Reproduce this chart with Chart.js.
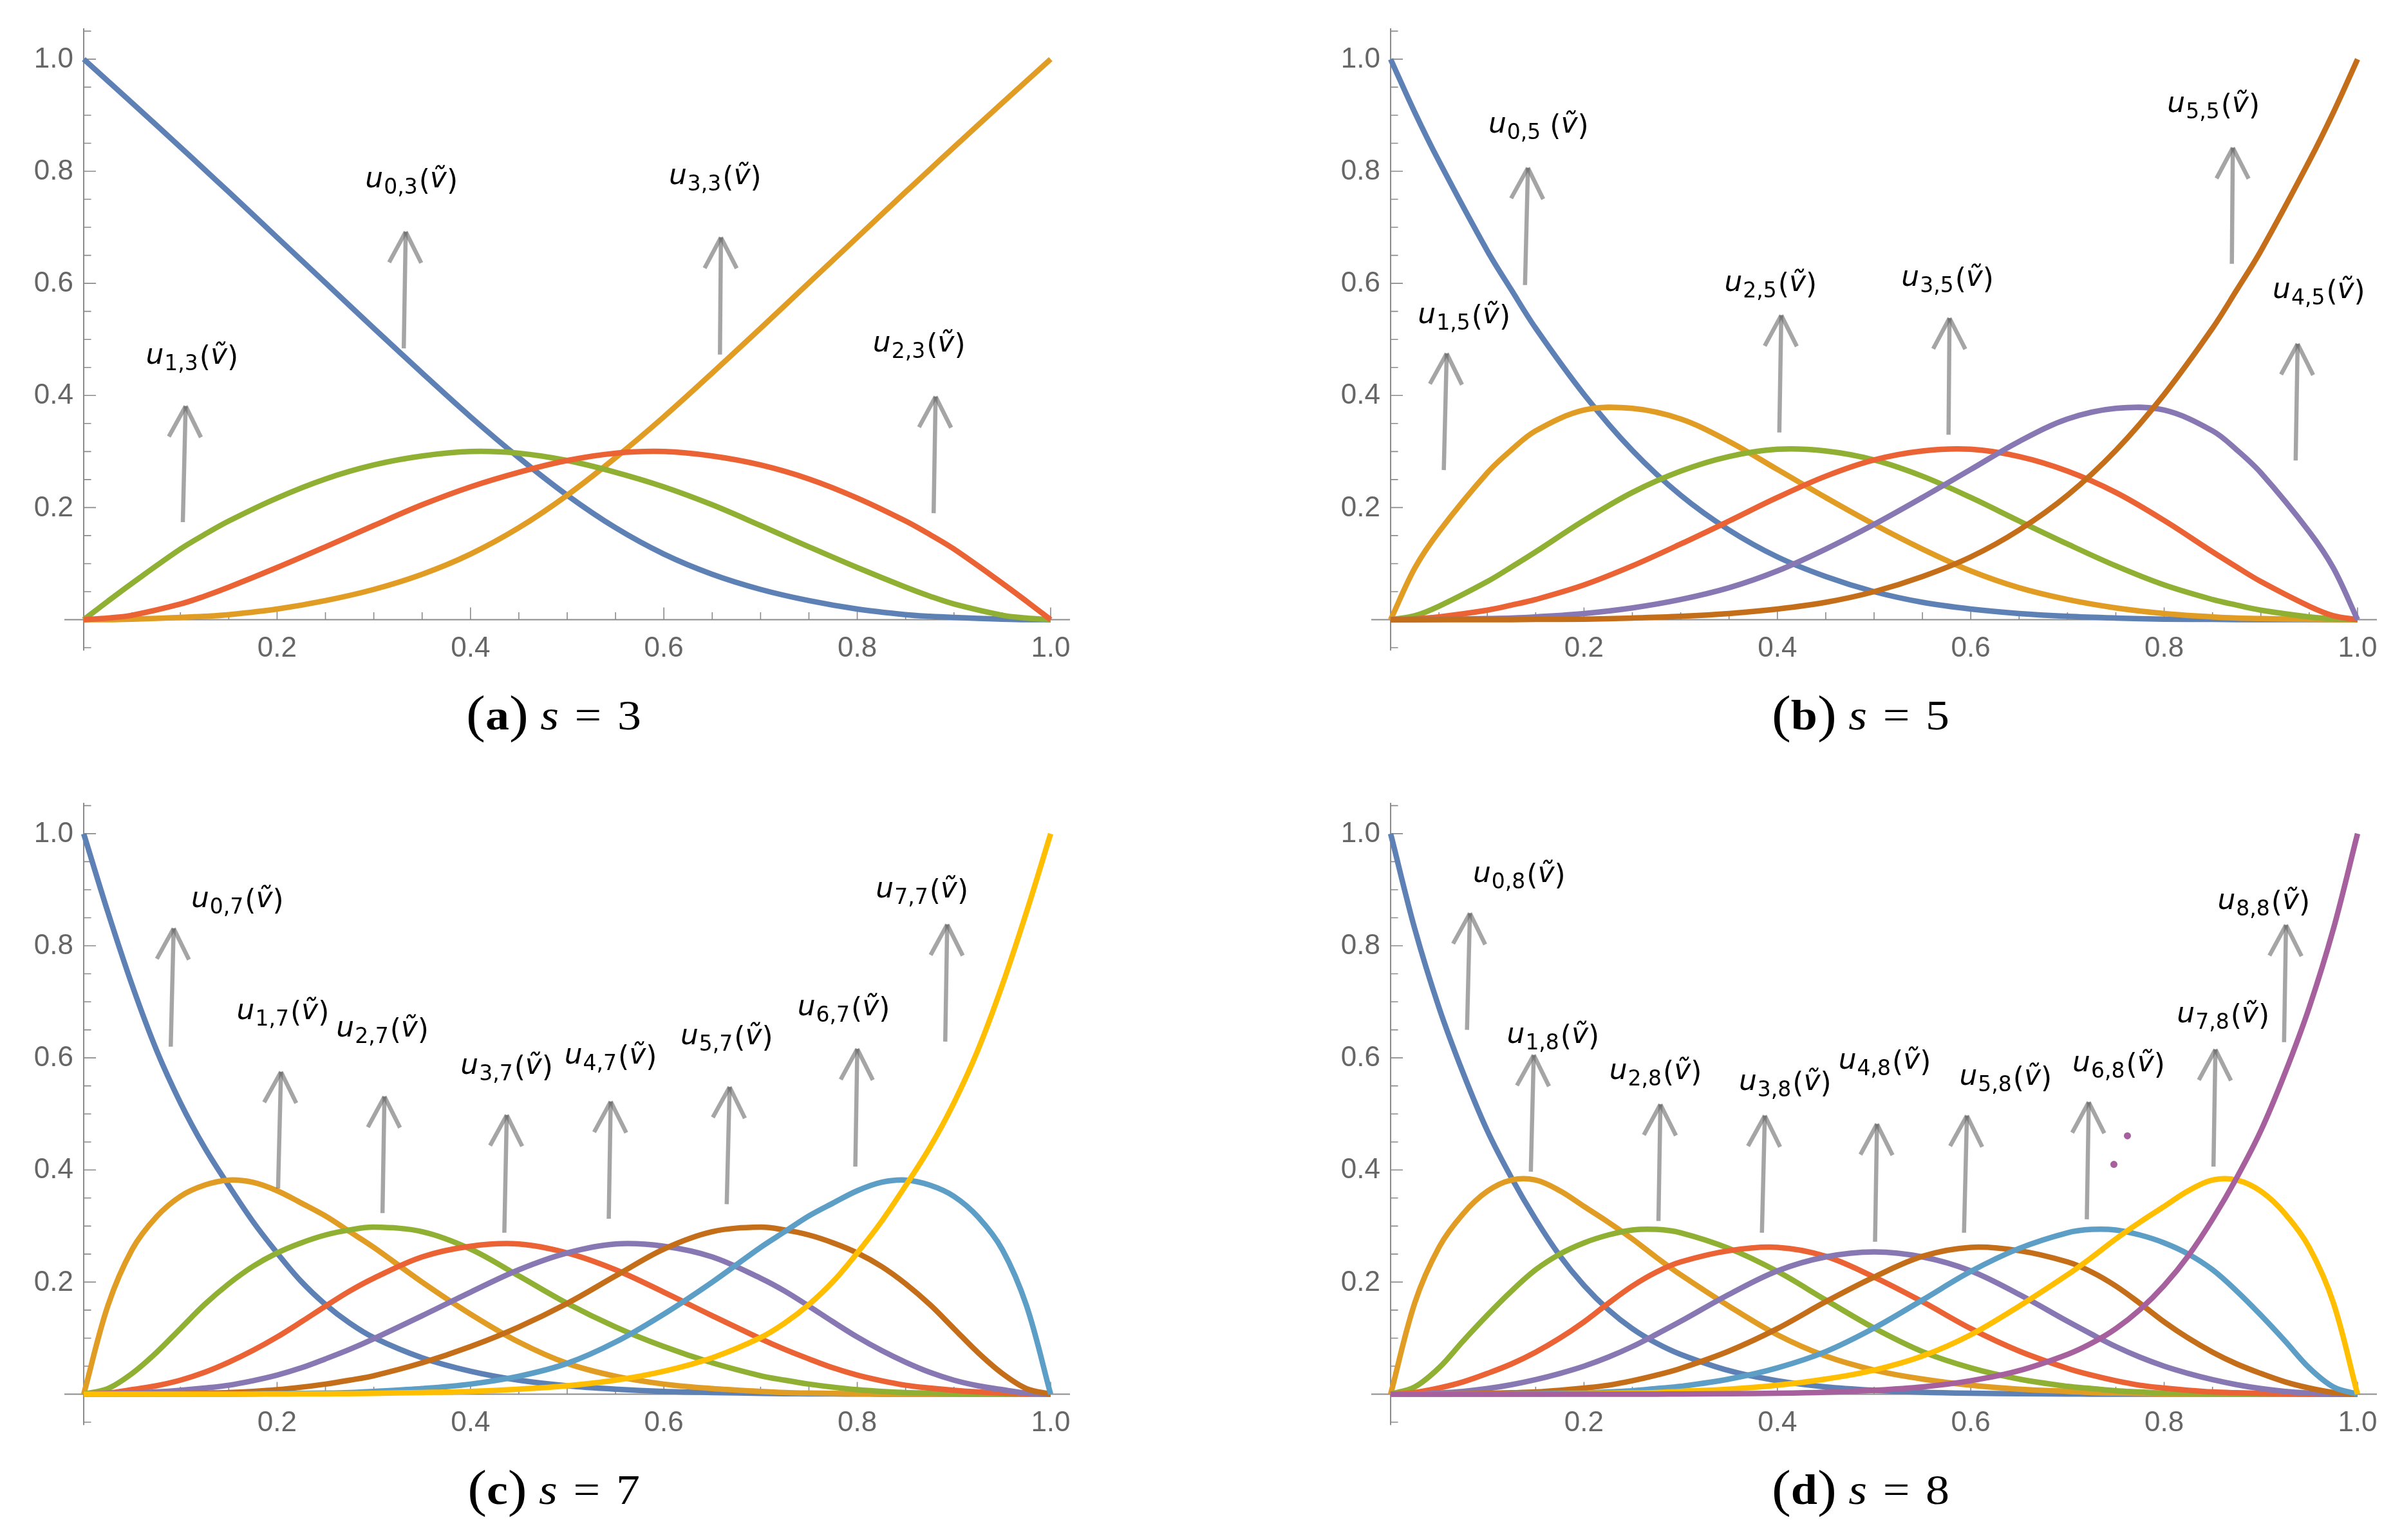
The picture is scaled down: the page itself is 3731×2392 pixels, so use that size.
<!DOCTYPE html>
<html><head><meta charset="utf-8">
<script src="https://cdn.jsdelivr.net/npm/chart.js@4.4.1/dist/chart.umd.min.js"></script>
<style>
html,body{margin:0;padding:0;background:#fff;}
body{width:3731px;height:2392px;position:relative;overflow:hidden;}
.panel{position:absolute;width:1800px;height:1185px;}
canvas{display:block;}
</style></head><body>
<div class="panel" style="left:0px;top:0px"><canvas id="ca" width="1800" height="1185"></canvas></div>
<div class="panel" style="left:2030px;top:0px"><canvas id="cb" width="1800" height="1185"></canvas></div>
<div class="panel" style="left:0px;top:1203px"><canvas id="cc" width="1800" height="1185"></canvas></div>
<div class="panel" style="left:2030px;top:1203px"><canvas id="cd" width="1800" height="1185"></canvas></div>
<script>
// ---------- data ----------
// sample positions of v~ used for panels (a),(b)
const xGridAB = [0, 0.025, 0.05, 0.1, 0.125, 0.15, 0.2, 0.25, 0.3, 0.35, 0.4, 0.45, 0.5, 0.55, 0.6, 0.65, 0.7, 0.75, 0.8, 0.85, 0.875, 0.9, 0.95, 0.975, 1];
// sample positions of v~ used for panels (c),(d)
const xGridCD = [0, 0.025, 0.05, 0.075, 0.1, 0.125, 0.15, 0.175, 0.2, 0.225, 0.25, 0.275, 0.3, 0.35, 0.4, 0.45, 0.5, 0.55, 0.6, 0.65, 0.7, 0.725, 0.75, 0.775, 0.8, 0.825, 0.85, 0.875, 0.9, 0.925, 0.95, 0.975, 1];

const xTickValues = [0.2, 0.4, 0.6, 0.8, 1.0];
const xTickLabels = ['0.2', '0.4', '0.6', '0.8', '1.0'];
const yTickValues = [0.2, 0.4, 0.6, 0.8, 1.0];
const yTickLabels = ['0.2', '0.4', '0.6', '0.8', '1.0'];
const xMinorTicks = [0.05, 0.1, 0.15, 0.25, 0.3, 0.35, 0.45, 0.5, 0.55, 0.65, 0.7, 0.75, 0.85, 0.9, 0.95];
const yMinorTicks = [-0.05, 0.05, 0.1, 0.15, 0.25, 0.3, 0.35, 0.45, 0.5, 0.55, 0.65, 0.7, 0.75, 0.85, 0.9, 0.95, 1.05];

// (a) s = 3
const a_u0 = [1, 0.961, 0.922, 0.843, 0.803, 0.763, 0.682, 0.601, 0.520, 0.44, 0.362, 0.289, 0.222, 0.164, 0.117, 0.081, 0.054, 0.034, 0.019, 0.009, 0.006, 0.004, 0.001, 0, 0];
const a_u1 = [0, 0.033, 0.065, 0.126, 0.152, 0.176, 0.217, 0.251, 0.276, 0.292, 0.3, 0.297, 0.284, 0.263, 0.237, 0.205, 0.168, 0.13, 0.093, 0.058, 0.042, 0.028, 0.008, 0.003, 0];
const a_u2 = [0, 0.003, 0.008, 0.028, 0.042, 0.058, 0.093, 0.13, 0.168, 0.205, 0.237, 0.263, 0.284, 0.297, 0.3, 0.292, 0.276, 0.251, 0.217, 0.176, 0.152, 0.126, 0.065, 0.033, 0];
const a_u3 = [0, 0, 0.001, 0.004, 0.006, 0.009, 0.019, 0.034, 0.054, 0.081, 0.117, 0.164, 0.222, 0.289, 0.362, 0.44, 0.520, 0.601, 0.682, 0.763, 0.803, 0.843, 0.922, 0.961, 1];

// (b) s = 5
const b_u0 = [1, 0.905, 0.818, 0.658, 0.588, 0.520, 0.402, 0.302, 0.222, 0.160, 0.112, 0.077, 0.050, 0.031, 0.019, 0.011, 0.006, 0.003, 0.001, 0.0005, 0, 0, 0, 0, 0];
const b_u1 = [0, 0.092, 0.157, 0.262, 0.303, 0.337, 0.374, 0.377, 0.358, 0.318, 0.268, 0.218, 0.170, 0.126, 0.087, 0.057, 0.036, 0.021, 0.011, 0.005, 0.003, 0.002, 0.0005, 0, 0];
const b_u2 = [0, 0.007, 0.024, 0.068, 0.094, 0.121, 0.177, 0.227, 0.265, 0.291, 0.304, 0.301, 0.285, 0.256, 0.218, 0.176, 0.135, 0.096, 0.062, 0.036, 0.026, 0.017, 0.005, 0.0015, 0];
const b_u3 = [0, 0.0015, 0.005, 0.017, 0.026, 0.036, 0.062, 0.096, 0.135, 0.176, 0.218, 0.256, 0.285, 0.301, 0.304, 0.291, 0.265, 0.227, 0.177, 0.121, 0.094, 0.068, 0.024, 0.007, 0];
const b_u4 = [0, 0, 0.0005, 0.002, 0.003, 0.005, 0.011, 0.021, 0.036, 0.057, 0.087, 0.126, 0.170, 0.218, 0.268, 0.318, 0.358, 0.377, 0.374, 0.337, 0.303, 0.262, 0.157, 0.092, 0];
const b_u5 = [0, 0, 0, 0, 0, 0.0005, 0.001, 0.003, 0.006, 0.011, 0.019, 0.031, 0.050, 0.077, 0.112, 0.160, 0.222, 0.302, 0.402, 0.520, 0.588, 0.658, 0.818, 0.905, 1];

// (c) s = 7
const c_u0 = [1, 0.86, 0.73, 0.615, 0.52, 0.44, 0.372, 0.308, 0.252, 0.201, 0.16, 0.127, 0.101, 0.065, 0.041, 0.025, 0.015, 0.009, 0.005, 0.003, 0.0015, 0.001, 0.0007, 0.0005, 0.0003, 0.0001, 0, 0, 0, 0, 0, 0, 0];
const c_u1 = [0, 0.158, 0.258, 0.316, 0.353, 0.373, 0.382, 0.378, 0.363, 0.341, 0.318, 0.29, 0.262, 0.2, 0.143, 0.093, 0.055, 0.032, 0.018, 0.01, 0.005, 0.003, 0.002, 0.0015, 0.001, 0.0005, 0, 0, 0, 0, 0, 0, 0];
const c_u2 = [0, 0.01, 0.037, 0.074, 0.117, 0.16, 0.197, 0.228, 0.252, 0.27, 0.284, 0.293, 0.298, 0.29, 0.259, 0.211, 0.162, 0.12, 0.085, 0.056, 0.033, 0.025, 0.018, 0.0125, 0.008, 0.005, 0.003, 0.002, 0.001, 0.0005, 0, 0, 0];
const c_u3 = [0, 0.002, 0.008, 0.015, 0.025, 0.039, 0.057, 0.078, 0.102, 0.129, 0.157, 0.184, 0.207, 0.245, 0.264, 0.268, 0.252, 0.222, 0.182, 0.14, 0.099, 0.08, 0.063, 0.047, 0.034, 0.024, 0.016, 0.011, 0.007, 0.004, 0.002, 0.001, 0];
const c_u4 = [0, 0.001, 0.002, 0.004, 0.007, 0.011, 0.016, 0.024, 0.034, 0.047, 0.063, 0.08, 0.099, 0.14, 0.182, 0.222, 0.252, 0.268, 0.264, 0.245, 0.207, 0.184, 0.157, 0.129, 0.102, 0.078, 0.057, 0.039, 0.025, 0.015, 0.008, 0.002, 0];
const c_u5 = [0, 0, 0, 0.0005, 0.001, 0.002, 0.003, 0.005, 0.008, 0.0125, 0.018, 0.025, 0.033, 0.056, 0.085, 0.12, 0.162, 0.211, 0.259, 0.29, 0.298, 0.293, 0.284, 0.27, 0.252, 0.228, 0.197, 0.16, 0.117, 0.074, 0.037, 0.01, 0];
const c_u6 = [0, 0, 0, 0, 0, 0, 0, 0.0005, 0.001, 0.0015, 0.002, 0.003, 0.005, 0.01, 0.018, 0.032, 0.055, 0.093, 0.143, 0.2, 0.262, 0.29, 0.318, 0.341, 0.363, 0.378, 0.382, 0.373, 0.353, 0.316, 0.258, 0.158, 0];
const c_u7 = [0, 0, 0, 0, 0, 0, 0, 0.0001, 0.0003, 0.0005, 0.0007, 0.001, 0.0015, 0.003, 0.005, 0.009, 0.015, 0.025, 0.041, 0.065, 0.101, 0.127, 0.16, 0.201, 0.252, 0.308, 0.372, 0.44, 0.52, 0.615, 0.73, 0.86, 1];

// (d) s = 8
const d_u0 = [1, 0.83, 0.69, 0.573, 0.47, 0.386, 0.312, 0.247, 0.194, 0.151, 0.117, 0.091, 0.071, 0.042, 0.024, 0.013, 0.007, 0.0035, 0.0017, 0.0008, 0.0003, 0.0001, 0, 0, 0, 0, 0, 0, 0, 0, 0, 0, 0];
const d_u1 = [0, 0.163, 0.262, 0.322, 0.362, 0.382, 0.382, 0.363, 0.335, 0.307, 0.277, 0.244, 0.213, 0.157, 0.106, 0.068, 0.043, 0.027, 0.016, 0.009, 0.005, 0.003, 0.002, 0.0015, 0.001, 0.0005, 0, 0, 0, 0, 0, 0, 0];
const d_u2 = [0, 0.013, 0.047, 0.095, 0.141, 0.184, 0.222, 0.25, 0.27, 0.284, 0.293, 0.294, 0.288, 0.26, 0.219, 0.168, 0.118, 0.076, 0.047, 0.027, 0.014, 0.01, 0.006, 0.004, 0.002, 0.0015, 0.001, 0.0005, 0, 0, 0, 0, 0];
const d_u3 = [0, 0.003, 0.011, 0.022, 0.037, 0.054, 0.075, 0.1, 0.129, 0.162, 0.193, 0.218, 0.236, 0.256, 0.262, 0.246, 0.209, 0.165, 0.117, 0.077, 0.046, 0.034, 0.024, 0.016, 0.011, 0.007, 0.004, 0.0025, 0.0015, 0.0008, 0.0003, 0, 0];
const d_u4 = [0, 0, 0.002, 0.005, 0.01, 0.017, 0.026, 0.037, 0.05, 0.066, 0.085, 0.107, 0.13, 0.178, 0.22, 0.245, 0.254, 0.245, 0.22, 0.178, 0.13, 0.107, 0.085, 0.066, 0.05, 0.037, 0.026, 0.017, 0.01, 0.005, 0.002, 0, 0];
const d_u5 = [0, 0, 0.0003, 0.0008, 0.0015, 0.0025, 0.004, 0.007, 0.011, 0.016, 0.024, 0.034, 0.046, 0.077, 0.117, 0.165, 0.209, 0.246, 0.262, 0.256, 0.236, 0.218, 0.193, 0.162, 0.129, 0.1, 0.075, 0.054, 0.037, 0.022, 0.011, 0.003, 0];
const d_u6 = [0, 0, 0, 0, 0, 0.0005, 0.001, 0.0015, 0.002, 0.004, 0.006, 0.01, 0.014, 0.027, 0.047, 0.076, 0.118, 0.168, 0.219, 0.26, 0.288, 0.294, 0.293, 0.284, 0.27, 0.25, 0.222, 0.184, 0.141, 0.095, 0.047, 0.013, 0];
const d_u7 = [0, 0, 0, 0, 0, 0, 0, 0.0005, 0.001, 0.0015, 0.002, 0.003, 0.005, 0.009, 0.016, 0.027, 0.043, 0.068, 0.106, 0.157, 0.213, 0.244, 0.277, 0.307, 0.335, 0.363, 0.382, 0.382, 0.362, 0.322, 0.262, 0.163, 0];
const d_u8 = [0, 0, 0, 0, 0, 0, 0, 0, 0, 0, 0, 0.0001, 0.0003, 0.0008, 0.0017, 0.0035, 0.007, 0.013, 0.024, 0.042, 0.071, 0.091, 0.117, 0.151, 0.194, 0.247, 0.312, 0.386, 0.47, 0.573, 0.69, 0.83, 1];
const d_dotsX = [0.762, 0.748];
const d_dotsY = [0.461, 0.41];

// annotations: arrows [tailX, tailY, tipX, tipY], labels [x, y, subscript, spaced]
const a_arrows = [[0.1025, 0.174, 0.1054, 0.381], [0.331, 0.484, 0.333, 0.692], [0.658, 0.473, 0.659, 0.682], [0.879, 0.19, 0.881, 0.398]];
const a_labels = [[0.112, 0.468, '1,3'], [0.339, 0.783, '0,3'], [0.653, 0.788, '3,3'], [0.864, 0.49, '2,3']];
const b_arrows = [[0.139, 0.597, 0.142, 0.806], [0.055, 0.267, 0.058, 0.475], [0.402, 0.334, 0.404, 0.543], [0.577, 0.33, 0.578, 0.538], [0.87, 0.635, 0.871, 0.842], [0.936, 0.284, 0.938, 0.492]];
const b_labels = [[0.153, 0.88, '0,5', true], [0.076, 0.541, '1,5'], [0.393, 0.598, '2,5'], [0.576, 0.607, '3,5'], [0.851, 0.917, '5,5'], [0.96, 0.585, '4,5']];
const c_arrows = [[0.09, 0.62, 0.093, 0.831], [0.201, 0.367, 0.204, 0.575], [0.309, 0.323, 0.311, 0.531], [0.435, 0.288, 0.4375, 0.498], [0.543, 0.313, 0.545, 0.522], [0.665, 0.339, 0.668, 0.548], [0.798, 0.406, 0.80, 0.616], [0.891, 0.629, 0.893, 0.838]];
const c_labels = [[0.159, 0.88, '0,7'], [0.206, 0.681, '1,7'], [0.309, 0.649, '2,7'], [0.4375, 0.583, '3,7'], [0.545, 0.601, '4,7'], [0.665, 0.636, '5,7'], [0.786, 0.687, '6,7'], [0.867, 0.898, '7,7']];
const d_arrows = [[0.079, 0.65, 0.082, 0.858], [0.145, 0.397, 0.148, 0.605], [0.277, 0.309, 0.279, 0.517], [0.384, 0.288, 0.387, 0.497], [0.501, 0.272, 0.503, 0.482], [0.593, 0.288, 0.596, 0.497], [0.72, 0.312, 0.722, 0.521], [0.851, 0.406, 0.853, 0.615], [0.924, 0.628, 0.926, 0.837]];
const d_labels = [[0.133, 0.925, '0,8'], [0.168, 0.638, '1,8'], [0.274, 0.574, '2,8'], [0.408, 0.554, '3,8'], [0.511, 0.592, '4,8'], [0.636, 0.563, '5,8'], [0.753, 0.588, '6,8'], [0.861, 0.675, '7,8'], [0.903, 0.877, '8,8']];

// ---------- styling / drawing ----------
const COLORS = ['#5E81B5', '#E19C24', '#8FB032', '#EB6235', '#8778B3', '#C56E1A', '#5D9EC7', '#FFBF00', '#A5609D'];
const AXIS_COLOR = '#8a8a8a';
const TICK_FONT = '44px "Liberation Sans", Arial, sans-serif';
const LBL_FAMILY = '"DejaVu Sans", sans-serif';
const SERIF = '"Liberation Serif", "DejaVu Serif", serif';

const axesPlugin = {
  id: 'mmaAxes',
  beforeDatasetsDraw(chart) {
    const ctx = chart.ctx, xs = chart.scales.x, ys = chart.scales.y;
    const x0 = xs.getPixelForValue(0), y0 = ys.getPixelForValue(0);
    ctx.save();
    ctx.strokeStyle = AXIS_COLOR;
    ctx.lineWidth = 2;
    ctx.beginPath();
    ctx.moveTo(xs.getPixelForValue(xs.min), y0); ctx.lineTo(xs.getPixelForValue(xs.max), y0);
    ctx.moveTo(x0, ys.getPixelForValue(ys.min)); ctx.lineTo(x0, ys.getPixelForValue(ys.max));
    ctx.stroke();
    ctx.lineWidth = 1.6;
    ctx.beginPath();
    xTickValues.forEach(v => { const p = xs.getPixelForValue(v); ctx.moveTo(p, y0); ctx.lineTo(p, y0 - 19); });
    xMinorTicks.forEach(v => { const p = xs.getPixelForValue(v); ctx.moveTo(p, y0); ctx.lineTo(p, y0 - 11.5); });
    yTickValues.forEach(v => { const p = ys.getPixelForValue(v); ctx.moveTo(x0, p); ctx.lineTo(x0 + 19, p); });
    yMinorTicks.forEach(v => { const p = ys.getPixelForValue(v); ctx.moveTo(x0, p); ctx.lineTo(x0 + 11.5, p); });
    ctx.stroke();
    ctx.fillStyle = '#666666';
    ctx.font = TICK_FONT;
    ctx.textAlign = 'center'; ctx.textBaseline = 'middle';
    xTickValues.forEach((v, i) => ctx.fillText(xTickLabels[i], xs.getPixelForValue(v), y0 + 45));
    ctx.textAlign = 'right';
    yTickValues.forEach((v, i) => ctx.fillText(yTickLabels[i], x0 - 16, ys.getPixelForValue(v) + 1));
    ctx.restore();
  }
};

function drawArrow(ctx, x0, y0, x1, y1) {
  ctx.save();
  ctx.strokeStyle = 'rgba(110,110,110,0.62)';
  ctx.lineWidth = 6.5;
  ctx.lineCap = 'butt';
  const ang = Math.atan2(y1 - y0, x1 - x0);
  const L = 54, A = 0.48;
  ctx.beginPath(); ctx.moveTo(x0, y0); ctx.lineTo(x1, y1); ctx.stroke();
  ctx.beginPath(); ctx.moveTo(x1, y1); ctx.lineTo(x1 - L * Math.cos(ang - A), y1 - L * Math.sin(ang - A)); ctx.stroke();
  ctx.beginPath(); ctx.moveTo(x1, y1); ctx.lineTo(x1 - L * Math.cos(ang + A), y1 - L * Math.sin(ang + A)); ctx.stroke();
  ctx.restore();
}

function drawLabel(ctx, cx, cy, sub, spaced) {
  const fMainI = 'italic 44px ' + LBL_FAMILY;
  const fMain = '44px ' + LBL_FAMILY;
  const fSub = '33px ' + LBL_FAMILY;
  ctx.save();
  ctx.fillStyle = '#000';
  ctx.textAlign = 'left'; ctx.textBaseline = 'alphabetic';
  ctx.font = fMainI; const wu = ctx.measureText('u').width; const wv = ctx.measureText('\u1E7D').width;
  ctx.font = fSub; const ws = ctx.measureText(sub).width;
  ctx.font = fMain; const wl = ctx.measureText('(').width; const wr = ctx.measureText(')').width;
  const gap = spaced ? 14 : 2;
  const total = wu + 1 + ws + gap + wl + wv + wr;
  let x = cx - total / 2;
  const base = cy + 10;
  ctx.font = fMainI; ctx.fillText('u', x, base); x += wu + 1;
  ctx.font = fSub; ctx.fillText(sub, x, base + 10); x += ws + gap;
  ctx.font = fMain; ctx.fillText('(', x, base + 4); x += wl;
  ctx.font = fMainI; ctx.fillText('\u1E7D', x, base); x += wv;
  ctx.font = fMain; ctx.fillText(')', x, base + 4);
  ctx.restore();
}

function drawCaption(ctx, cx, base, letter, num) {
  const parts = [
    { t: '(', f: '80px ' + SERIF },
    { t: letter, f: 'bold 66px ' + SERIF },
    { t: ')', f: '80px ' + SERIF },
    { t: '\u2005', f: '66px ' + SERIF },
    { t: 's', f: 'italic 66px ' + SERIF },
    { t: '\u2004=\u2004', f: '66px ' + SERIF },
    { t: num, f: '66px ' + SERIF }
  ];
  ctx.save();
  ctx.fillStyle = '#000'; ctx.textAlign = 'left'; ctx.textBaseline = 'alphabetic';
  let total = 0;
  parts.forEach(p => { ctx.font = p.f; p.w = ctx.measureText(p.t).width; total += p.w; });
  ctx.translate(cx, base);
  ctx.scale(1.12, 1);
  let x = -total / 2;
  parts.forEach(p => { ctx.font = p.f; ctx.fillText(p.t, x, p.t === '(' || p.t === ')' ? 3 : 0); x += p.w; });
  ctx.restore();
}

function annotPlugin(arrows, labels, letter, num) {
  return {
    id: 'annot',
    afterDatasetsDraw(chart) {
      const ctx = chart.ctx, xs = chart.scales.x, ys = chart.scales.y;
      arrows.forEach(a => drawArrow(ctx, xs.getPixelForValue(a[0]), ys.getPixelForValue(a[1]), xs.getPixelForValue(a[2]), ys.getPixelForValue(a[3])));
      labels.forEach(l => drawLabel(ctx, xs.getPixelForValue(l[0]), ys.getPixelForValue(l[1]), l[2], l[3]));
      drawCaption(ctx, 860, 1133, letter, num);
    }
  };
}

function makeChart(id, grid, series, colorIdx, arrows, labels, letter, num, dots) {
  const n = series.length;
  const datasets = series.map((ys, i) => ({
    data: grid.map((x, k) => ({ x: x, y: ys[k] })),
    borderColor: COLORS[colorIdx[i]],
    backgroundColor: COLORS[colorIdx[i]],
    borderWidth: 8.5,
    borderJoinStyle: 'round',
    pointRadius: 0,
    showLine: true,
    tension: 0.35,
    fill: false,
    order: n - i + 1
  }));
  if (dots) {
    datasets.push({
      data: dots[0].map((x, k) => ({ x: x, y: dots[1][k] })),
      showLine: false, pointRadius: 5.5, pointBorderWidth: 0,
      pointBackgroundColor: COLORS[8], backgroundColor: COLORS[8], order: 0
    });
  }
  return new Chart(document.getElementById(id), {
    type: 'scatter',
    data: { datasets: datasets },
    options: {
      responsive: false, animation: false, devicePixelRatio: 1, events: [],
      layout: { padding: { left: 100, top: 44, right: 138, bottom: 174.6 } },
      plugins: { legend: { display: false }, tooltip: { enabled: false }, title: { display: false } },
      scales: {
        x: { type: 'linear', min: -0.02, max: 1.02, display: false },
        y: { type: 'linear', min: -0.055, max: 1.055, display: false }
      }
    },
    plugins: [axesPlugin, annotPlugin(arrows, labels, letter, num)]
  });
}

makeChart('ca', xGridAB, [a_u0, a_u3, a_u1, a_u2], [0, 1, 2, 3], a_arrows, a_labels, 'a', '3');
makeChart('cb', xGridAB, [b_u0, b_u1, b_u2, b_u3, b_u4, b_u5], [0, 1, 2, 3, 4, 5], b_arrows, b_labels, 'b', '5');
makeChart('cc', xGridCD, [c_u0, c_u1, c_u2, c_u3, c_u4, c_u5, c_u6, c_u7], [0, 1, 2, 3, 4, 5, 6, 7], c_arrows, c_labels, 'c', '7');
makeChart('cd', xGridCD, [d_u0, d_u1, d_u2, d_u3, d_u4, d_u5, d_u6, d_u7, d_u8], [0, 1, 2, 3, 4, 5, 6, 7, 8], d_arrows, d_labels, 'd', '8', [d_dotsX, d_dotsY]);
</script>
</body></html>
